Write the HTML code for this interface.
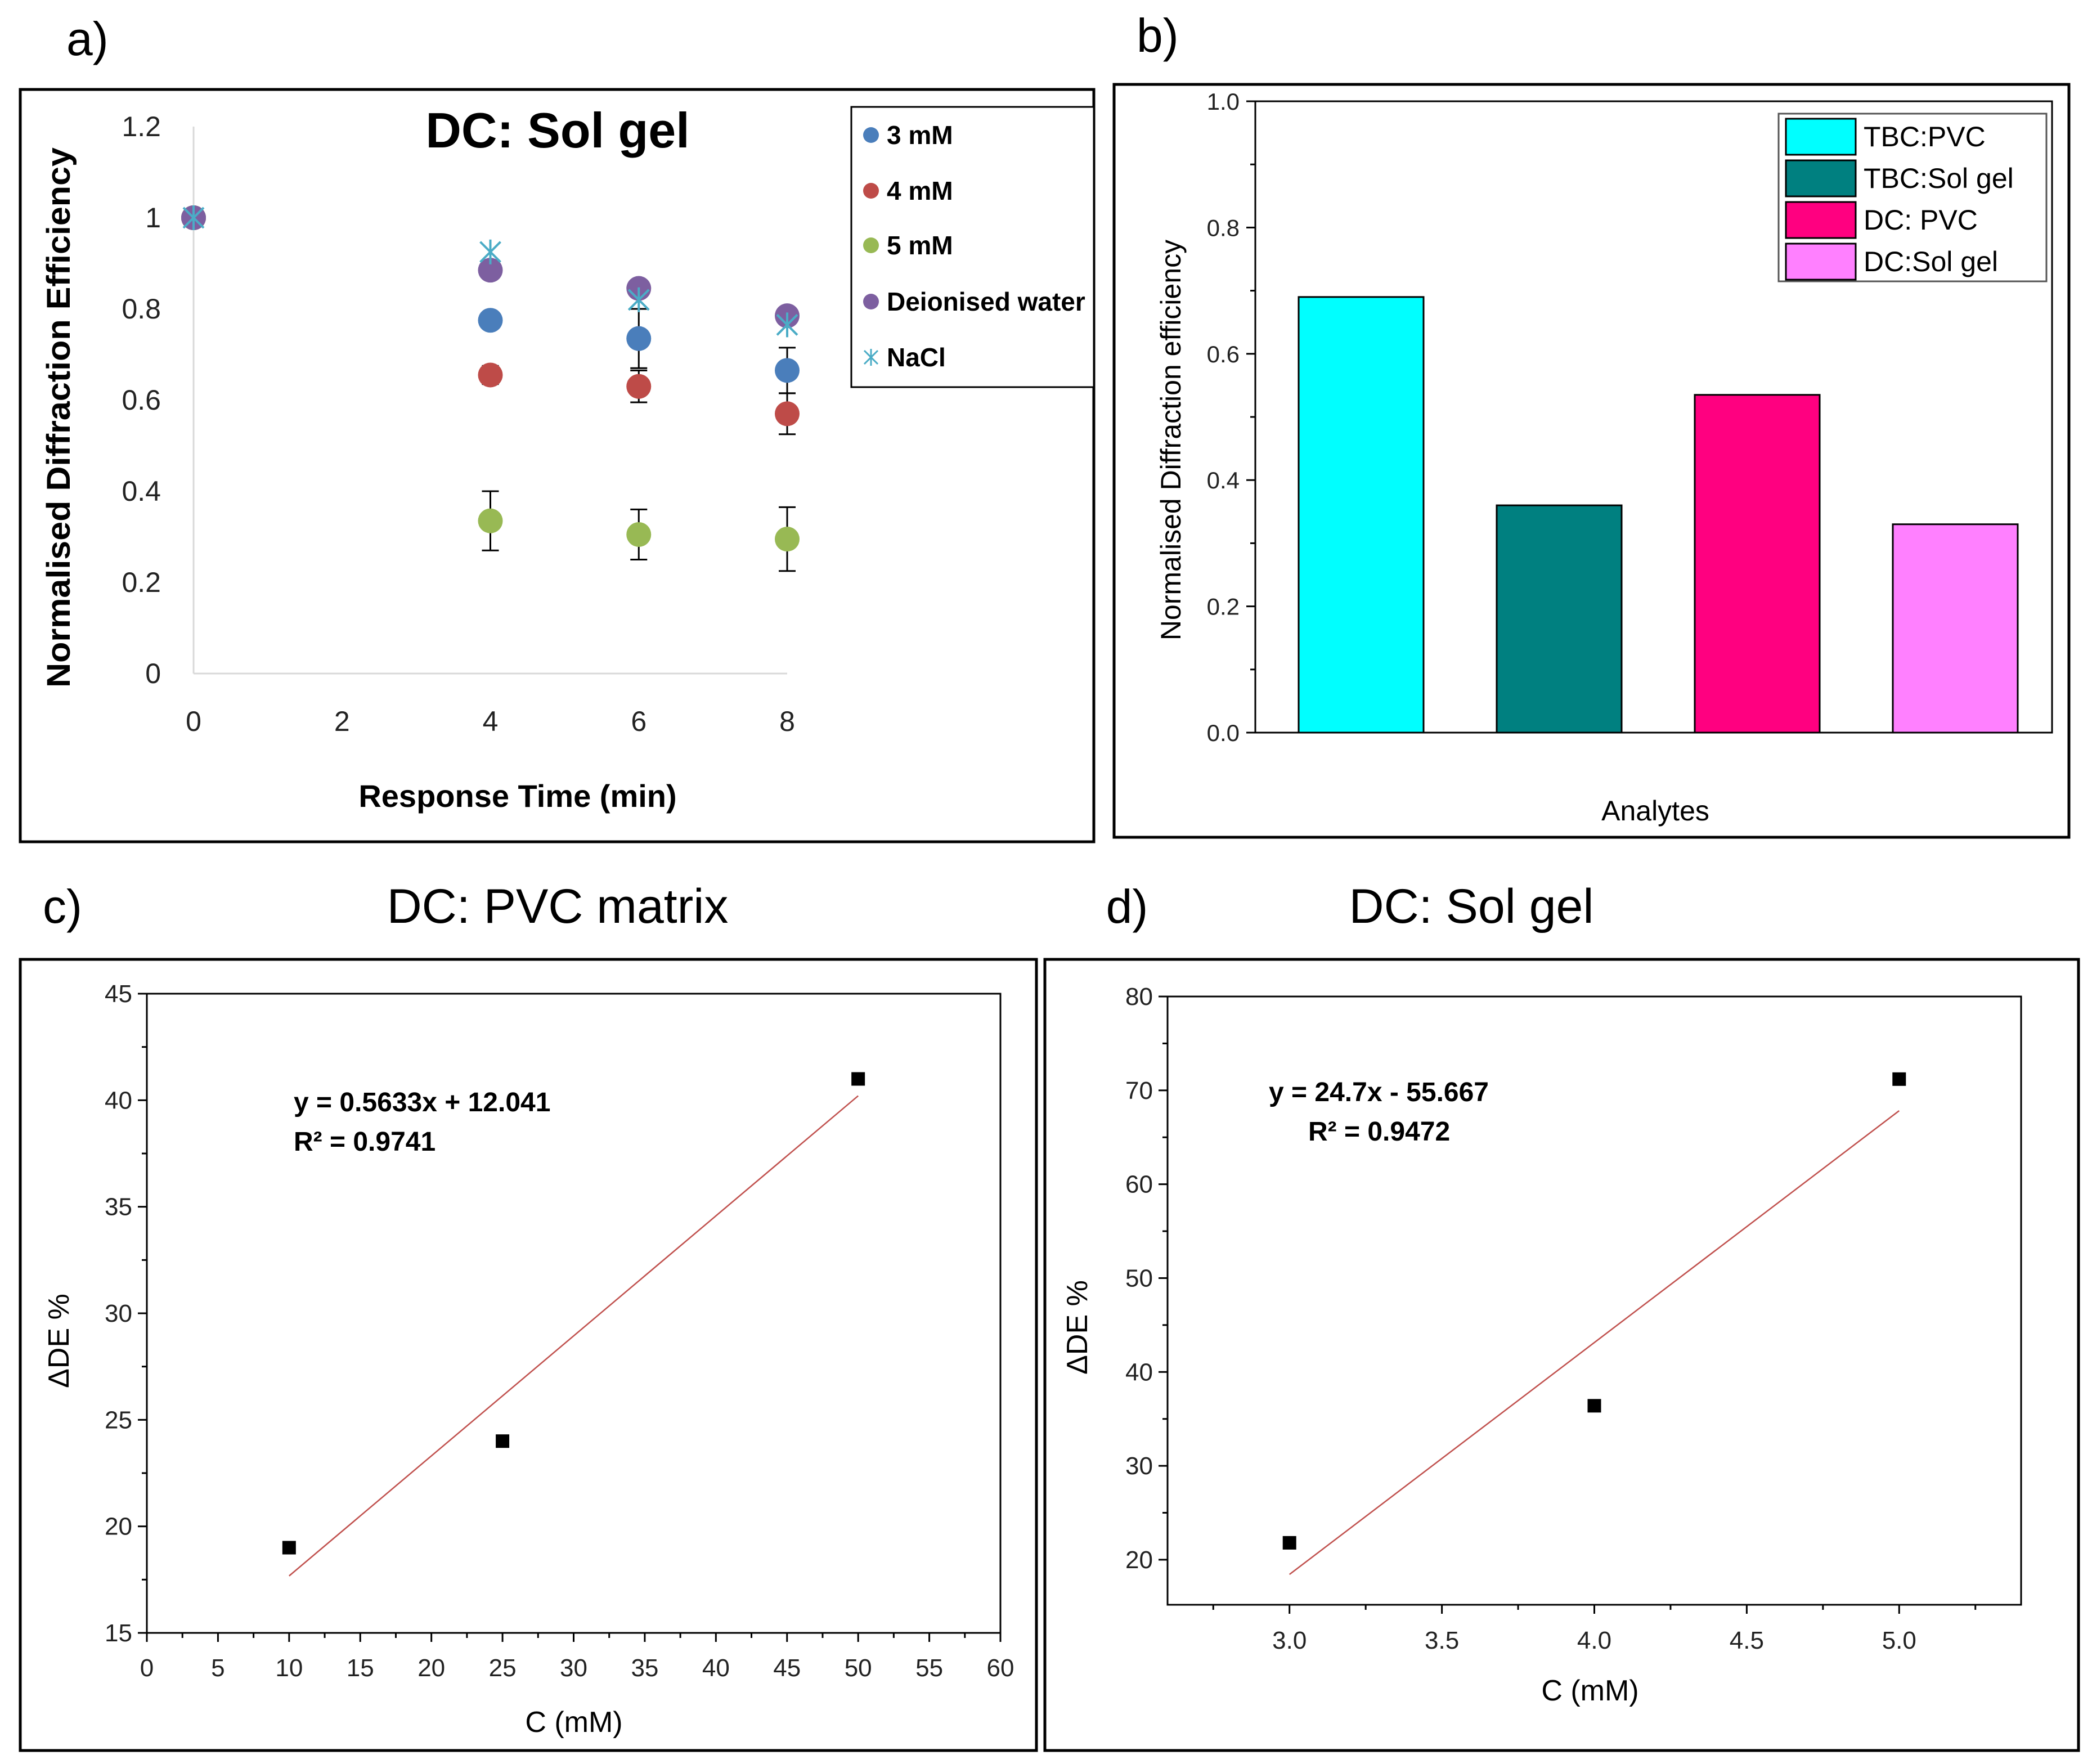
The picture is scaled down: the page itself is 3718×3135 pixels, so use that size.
<!DOCTYPE html>
<html><head><meta charset="utf-8"><style>
html,body{margin:0;padding:0;background:#fff;}
svg{display:block;}
text{font-family:"Liberation Sans",sans-serif;}
</style></head><body>
<svg id="fig" width="3718" height="3135" viewBox="0 0 3718 3135" xmlns="http://www.w3.org/2000/svg">
<rect width="3718" height="3135" fill="#fff"/>
<g id="pa"></g>
<g id="pb"></g>
<g id="pc"></g>
<g id="pd"></g>
</svg>
<script>
// ---------- Panel a data ----------
const aTimes = [0, 4, 6, 8];
const aSeriesNames = ["3 mM", "4 mM", "5 mM", "Deionised water", "NaCl"];
const a3mM = [1, 0.775, 0.735, 0.665];
const a4mM = [1, 0.655, 0.63, 0.57];
const a5mM = [1, 0.335, 0.305, 0.295];
const aWater = [1, 0.885, 0.845, 0.785];
const aNaCl = [1, 0.925, 0.82, 0.765];
const a3mMErr = [0, 0, 0.065, 0.05];
const a4mMErr = [0, 0.02, 0.035, 0.045];
const a5mMErr = [0, 0.065, 0.055, 0.07];
const aYTicks = ["0", "0.2", "0.4", "0.6", "0.8", "1", "1.2"];
const aXTicks = [0, 2, 4, 6, 8];
// ---------- Panel b data ----------
const bCategories = ["TBC:PVC", "TBC:Sol gel", "DC: PVC", "DC:Sol gel"];
const bValues = [0.69, 0.36, 0.535, 0.33];
const bYTicks = ["0.0", "0.2", "0.4", "0.6", "0.8", "1.0"];
// ---------- Panel c data ----------
const cX = [10, 25, 50];
const cY = [19, 24, 41];
const cSlope = 0.5633, cIntercept = 12.041;
const cXTicks = [0,5,10,15,20,25,30,35,40,45,50,55,60];
const cYTicks = [15,20,25,30,35,40,45];
// ---------- Panel d data ----------
const dX = [3, 4, 5];
const dY = [21.8, 36.4, 71.2];
const dSlope = 24.7, dIntercept = -55.667;
const dXTicks = ["3.0","3.5","4.0","4.5","5.0"];
const dYTicks = [20,30,40,50,60,70,80];

const NS = "http://www.w3.org/2000/svg";
function mk(parent, tag, attrs, txt){
  const e = document.createElementNS(NS, tag);
  for (const k in attrs) e.setAttribute(k, attrs[k]);
  if (txt !== undefined) e.textContent = txt;
  parent.appendChild(e);
  return e;
}
const CAL = '"Liberation Sans Narrow","Liberation Sans",sans-serif';

// ================= PANEL A =================
(function(){
  const g = document.getElementById('pa');
  let t = mk(g,'text',{x:118,y:98,'font-size':84});
  t.textContent='a)';
  
  
  let r = mk(g,'rect',{x:36,y:159,width:1908,height:1337,fill:'none',stroke:'#000','stroke-width':5});
  
  
  const X0=344, X1=1399, Y0=1197, Y1=225;
  const xs = v => X0 + (v-0)/(8-0)*(X1-X0);
  const ys = v => Y0 - v/1.2*(Y0-Y1);
  let ax = mk(g,'line',{x1:X0,y1:Y1,x2:X0,y2:Y0,stroke:'#d9d9d9','stroke-width':3});
  
  
  let bx = mk(g,'line',{x1:X0,y1:Y0,x2:X1,y2:Y0,stroke:'#d9d9d9','stroke-width':3});
  
  
  aYTicks.forEach((lab,i)=>{
    const e = mk(g,'text',{x:286,y:ys(i*0.2)+17,'text-anchor':'end','font-size':50,'font-family':CAL,fill:'#222'},lab);
    
    
  });
  aXTicks.forEach(v=>{
    const e = mk(g,'text',{x:xs(v),y:1299,'text-anchor':'middle','font-size':50,'font-family':CAL,fill:'#222'},String(v));
    
    
  });
  t = mk(g,'text',{x:991,y:262,'text-anchor':'middle','font-size':88,'font-weight':'bold','font-family':CAL},'DC: Sol gel');
  
  
  t = mk(g,'text',{x:920,y:1434,'text-anchor':'middle','font-size':56,'font-weight':'bold','font-family':CAL},'Response Time (min)');
  
  
  t = mk(g,'text',{x:124,y:742,'text-anchor':'middle','font-size':58,'font-weight':'bold',textLength:960,lengthAdjust:'spacingAndGlyphs',transform:'rotate(-90 124 742)'},'Normalised Diffraction Efficiency');
  
  

  const colors = ['#4a7ebb','#be4b48','#98b954','#7d5fa0','#4bacc6'];
  const series = [a3mM,a4mM,a5mM,aWater,aNaCl];
  const errs = [a3mMErr,a4mMErr,a5mMErr];
  errs.forEach((er,si)=>{
    er.forEach((d,i)=>{
      if(!d) return;
      const x=xs(aTimes[i]), yt=ys(series[si][i]+d), yb=ys(series[si][i]-d);
      const eb = mk(g,'path',{d:`M${x} ${yt}V${yb}M${x-15} ${yt}H${x+15}M${x-15} ${yb}H${x+15}`,stroke:'#000','stroke-width':3,fill:'none'});
      
      
    });
  });
  [0,1,2,3].forEach(si=>{
    series[si].forEach((v,i)=>{
      const c = mk(g,'circle',{cx:xs(aTimes[i]),cy:ys(v),r:22,fill:colors[si]});
      
      
    });
  });
  aNaCl.forEach((v,i)=>{
    const x=xs(aTimes[i]), y=ys(v), s=18;
    const p = mk(g,'path',{d:`M${x-s} ${y-s}L${x+s} ${y+s}M${x-s} ${y+s}L${x+s} ${y-s}M${x} ${y-s-4}V${y+s+4}`,stroke:colors[4],'stroke-width':4,fill:'none'});
    
    
  });
  const lg = mk(g,'g',{});
  
  
  mk(lg,'rect',{x:1513,y:190,width:431,height:498,fill:'#fff',stroke:'#000','stroke-width':3});
  const ly=[240,339,436,536,635];
  aSeriesNames.forEach((n,i)=>{
    const it = mk(lg,'g',{});
    
    
    if(i<4) mk(it,'circle',{cx:1548,cy:ly[i],r:14,fill:colors[i]});
    else mk(it,'path',{d:`M1536 ${ly[i]-12}L1560 ${ly[i]+12}M1536 ${ly[i]+12}L1560 ${ly[i]-12}M1548 ${ly[i]-15}V${ly[i]+15}`,stroke:colors[4],'stroke-width':3,fill:'none'});
    mk(it,'text',{x:1576,y:ly[i]+16,'font-size':46,'font-weight':'bold','font-family':CAL},n);
  });
})();

// ================= PANEL B =================
(function(){
  const g = document.getElementById('pb');
  let t = mk(g,'text',{x:2020,y:92,'font-size':84});
  t.textContent='b)';
  
  
  let r = mk(g,'rect',{x:1980,y:150,width:1697,height:1338,fill:'none',stroke:'#000','stroke-width':5});
  
  
  const L=2231,R=3647,T=180,B=1302;
  const ys = v => B - v/1.0*(B-T);
  r = mk(g,'rect',{x:L,y:T,width:R-L,height:B-T,fill:'none',stroke:'#000','stroke-width':3});
  
  
  for(let i=0;i<=10;i++){
    const y=ys(i*0.1), len=(i%2===0)?16:9;
    const tk = mk(g,'line',{x1:L-len,y1:y,x2:L,y2:y,stroke:'#000','stroke-width':3});
    
    
  }
  bYTicks.forEach((lab,i)=>{
    const e = mk(g,'text',{x:L-28,y:ys(i*0.2)+15,'text-anchor':'end','font-size':42,fill:'#222'},lab);
    
    
  });
  const colors=['#00ffff','#008080','#ff0080','#ff80ff'];
  const bw=222;
  bValues.forEach((v,i)=>{
    const cx = L + 188 + i*352;
    const b = mk(g,'rect',{x:cx-bw/2,y:ys(v),width:bw,height:B-ys(v),fill:colors[i],stroke:'#000','stroke-width':3});
    
    
  });
  t = mk(g,'text',{x:2942,y:1458,'text-anchor':'middle','font-size':50},'Analytes');
  
  
  t = mk(g,'text',{x:2098,y:782,'text-anchor':'middle','font-size':50,transform:'rotate(-90 2098 782)'},'Normalised Diffraction efficiency');
  
  
  const lg = mk(g,'g',{});
  
  
  mk(lg,'rect',{x:3161,y:202,width:476,height:298,fill:'#fff',stroke:'#555','stroke-width':3});
  bCategories.forEach((n,i)=>{
    const y0=211+i*74;
    const it = mk(lg,'g',{});
    
    
    mk(it,'rect',{x:3174,y:y0,width:124,height:64,fill:colors[i],stroke:'#000','stroke-width':3});
    mk(it,'text',{x:3312,y:y0+49,'font-size':50},n);
  });
})();

// ================= generic scatter (c,d) =================
function scatterPanel(gid, cfg){
  const g = document.getElementById(gid);
  let t = mk(g,'text',{x:cfg.labX,y:1640,'text-anchor':'middle','font-size':84},cfg.lab);
  
  
  t = mk(g,'text',{x:cfg.titleX,y:1640,'text-anchor':'middle','font-size':86},cfg.title);
  
  
  let r = mk(g,'rect',{x:cfg.box[0],y:cfg.box[1],width:cfg.box[2],height:cfg.box[3],fill:'none',stroke:'#000','stroke-width':5});
  
  
  const [L,T,R,B]=cfg.plot;
  const xs=v=>L+(v-cfg.xmin)/(cfg.xmax-cfg.xmin)*(R-L);
  const ys=v=>B-(v-cfg.ymin)/(cfg.ymax-cfg.ymin)*(B-T);
  r = mk(g,'rect',{x:L,y:T,width:R-L,height:B-T,fill:'none',stroke:'#000','stroke-width':3});
  
  
  cfg.xTicks.forEach((lab,i)=>{
    const v=parseFloat(lab), x=xs(v);
    const tk=mk(g,'line',{x1:x,y1:B,x2:x,y2:B+16,stroke:'#000','stroke-width':3});
    
    
    if(i<cfg.xTicks.length-1){
      const xm=xs(v+cfg.xStep/2);
      mk(g,'line',{x1:xm,y1:B,x2:xm,y2:B+9,stroke:'#000','stroke-width':3});
    }
    const e=mk(g,'text',{x:x,y:cfg.xLabY,'text-anchor':'middle','font-size':44,fill:'#222'},String(lab));
    
    
  });
  if(cfg.xExtraMinor) cfg.xExtraMinor.forEach(v=>mk(g,'line',{x1:xs(v),y1:B,x2:xs(v),y2:B+9,stroke:'#000','stroke-width':3}));
  cfg.yTicks.forEach((v,i)=>{
    const y=ys(v);
    const tk=mk(g,'line',{x1:L-16,y1:y,x2:L,y2:y,stroke:'#000','stroke-width':3});
    
    
    if(i<cfg.yTicks.length-1){
      const ym=ys(v+cfg.yStep/2);
      mk(g,'line',{x1:L-9,y1:ym,x2:L,y2:ym,stroke:'#000','stroke-width':3});
    }
    const e=mk(g,'text',{x:L-26,y:y+15,'text-anchor':'end','font-size':44,fill:'#222'},String(v));
    
    
  });
  const x1=cfg.X[0], x2=cfg.X[cfg.X.length-1];
  const ln=mk(g,'line',{x1:xs(x1),y1:ys(cfg.m*x1+cfg.b),x2:xs(x2),y2:ys(cfg.m*x2+cfg.b),stroke:'#c0504d','stroke-width':2.5});
  
  
  cfg.X.forEach((v,i)=>{
    const p=mk(g,'rect',{x:xs(v)-12,y:ys(cfg.Y[i])-12,width:24,height:24,fill:'#000'});
    
    
  });
  t=mk(g,'text',{x:cfg.eq[0],y:cfg.eq[1],'font-size':48,'font-weight':'bold','font-family':CAL},cfg.eqText);
  
  
  t=mk(g,'text',{x:cfg.r2[0],y:cfg.r2[1],'font-size':48,'font-weight':'bold','font-family':CAL},cfg.r2Text);
  
  
  t=mk(g,'text',{x:cfg.xt[0],y:cfg.xt[1],'text-anchor':'middle','font-size':52},'C (mM)');
  
  
  t=mk(g,'text',{x:cfg.yt[0],y:cfg.yt[1],'text-anchor':'middle','font-size':52,transform:`rotate(-90 ${cfg.yt[0]} ${cfg.yt[1]})`},'\u0394DE %');
  
  
}
scatterPanel('pc',{lab:'c)',labX:111,title:'DC: PVC matrix',titleX:991,box:[36,1705,1806,1406],
  plot:[261,1766,1778,2902],xmin:0,xmax:60,ymin:15,ymax:45,xTicks:cXTicks,xStep:5,yTicks:cYTicks,yStep:5,xLabY:2979,
  X:cX,Y:cY,m:cSlope,b:cIntercept,eq:[522,1975],eqText:'y = 0.5633x + 12.041',r2:[522,2045],r2Text:'R\u00b2 = 0.9741',
  xt:[1020,3078],yt:[122,2383]});
scatterPanel('pd',{lab:'d)',labX:2003,title:'DC: Sol gel',titleX:2615,box:[1857,1705,1837,1406],
  plot:[2075,1771,3592,2852],xmin:2.6,xmax:5.4,ymin:15.2,ymax:80,xTicks:dXTicks,xStep:0.5,yTicks:dYTicks,yStep:10,xLabY:2930,
  xExtraMinor:[2.75,5.25],
  X:dX,Y:dY,m:dSlope,b:dIntercept,eq:[2255,1957],eqText:'y = 24.7x - 55.667',r2:[2325,2027],r2Text:'R\u00b2 = 0.9472',
  xt:[2826,3022],yt:[1932,2359]});
</script>
</body></html>
